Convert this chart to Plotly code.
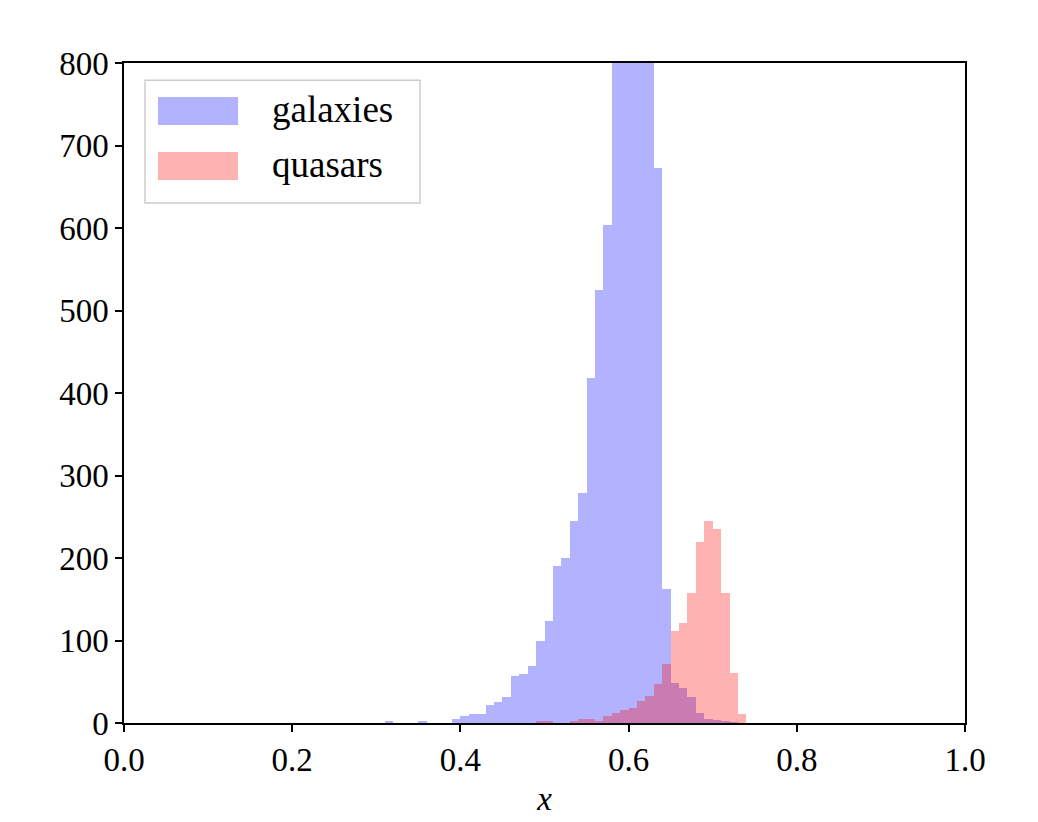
import numpy as np
import plotly.graph_objects as go

# Histogram data (bin width 0.01, left edges)
bin_width = 0.01
galaxy_edges = [0.31, 0.35, 0.39, 0.40, 0.41, 0.42, 0.43, 0.44, 0.45, 0.46, 0.47, 0.48,
                0.49, 0.50, 0.51, 0.52, 0.53, 0.54, 0.55, 0.56, 0.57, 0.58, 0.59, 0.60,
                0.61, 0.62, 0.63, 0.64, 0.65, 0.66, 0.67, 0.68, 0.69, 0.70, 0.71, 0.72]
galaxy_counts = [2, 2, 5, 8, 11, 11, 22, 25, 32, 57, 59, 69,
                 99, 124, 190, 200, 245, 279, 418, 525, 604, 870, 960, 1010,
                 950, 830, 673, 163, 48, 42, 32, 12, 5, 4, 3, 1]

quasar_edges = [0.49, 0.50, 0.53, 0.54, 0.55, 0.56, 0.57, 0.58, 0.59, 0.60, 0.61, 0.62,
                0.63, 0.64, 0.65, 0.66, 0.67, 0.68, 0.69, 0.70, 0.71, 0.72, 0.73]
quasar_counts = [2, 2, 2, 5, 5, 2, 8, 12, 16, 18, 27, 33,
                 47, 71, 111, 121, 158, 220, 245, 235, 158, 61, 11]

x_ticks = [0.0, 0.2, 0.4, 0.6, 0.8, 1.0]
x_tick_labels = ["0.0", "0.2", "0.4", "0.6", "0.8", "1.0"]
y_ticks = [0, 100, 200, 300, 400, 500, 600, 700, 800]

FONT = "Liberation Serif"
FS = 33
LEG_FS = 37

fig = go.Figure()
fig.add_trace(go.Bar(
    x=np.array(galaxy_edges) + bin_width / 2, y=galaxy_counts, width=bin_width,
    marker=dict(color="rgba(0,0,255,0.3)", line=dict(width=0)),
    name="galaxies", showlegend=False))
fig.add_trace(go.Bar(
    x=np.array(quasar_edges) + bin_width / 2, y=quasar_counts, width=bin_width,
    marker=dict(color="rgba(255,0,0,0.3)", line=dict(width=0)),
    name="quasars", showlegend=False))

axis_common = dict(showline=True, linecolor="black", linewidth=1.5, mirror=True,
                   ticks="outside", ticklen=7, tickwidth=1.5, tickcolor="black",
                   showgrid=False, zeroline=False,
                   tickfont=dict(family=FONT, size=FS, color="black"))

fig.update_layout(
    width=1030, height=814,
    margin=dict(l=116, r=73, t=55, b=99),
    paper_bgcolor="white", plot_bgcolor="white",
    barmode="overlay", bargap=0,
    xaxis=dict(range=[0, 1], tickvals=x_ticks, ticktext=x_tick_labels,
               title=dict(text="<i>x</i>", font=dict(family=FONT, size=FS, color="black"),
                          standoff=10),
               **axis_common),
    yaxis=dict(range=[0, 800], tickvals=y_ticks, **axis_common),
)

# Legend drawn in axes-fraction (paper) coordinates, matplotlib style
fig.add_shape(type="rect", xref="paper", yref="paper", x0=0.025, x1=0.352, y0=0.788, y1=0.974,
              line=dict(color="#cccccc", width=1.5), fillcolor="rgba(255,255,255,0.8)", layer="above")
fig.add_shape(type="rect", xref="paper", yref="paper", x0=0.0404, x1=0.1356, y0=0.906, y1=0.9485,
              line=dict(width=0), fillcolor="rgba(0,0,255,0.3)", layer="above")
fig.add_shape(type="rect", xref="paper", yref="paper", x0=0.0404, x1=0.1356, y0=0.8227, y1=0.865,
              line=dict(width=0), fillcolor="rgba(255,0,0,0.3)", layer="above")
for label, yc in [("galaxies", 0.929), ("quasars", 0.846)]:
    fig.add_annotation(text=label, xref="paper", yref="paper", x=0.1736, y=yc,
                       xanchor="left", yanchor="middle", showarrow=False,
                       font=dict(family=FONT, size=LEG_FS, color="black"))

fig.write_html("out.html")
